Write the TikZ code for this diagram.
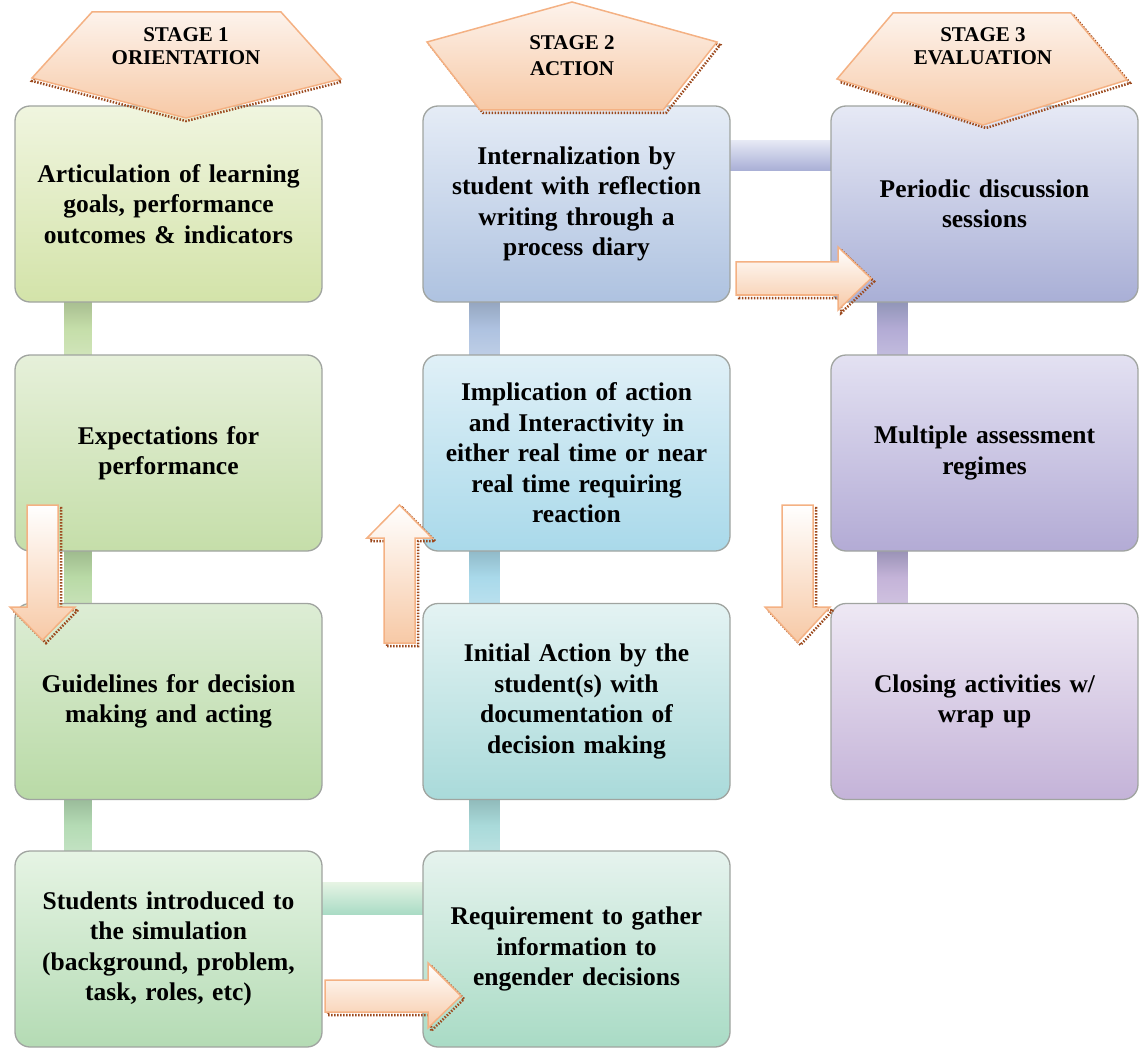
\documentclass[tikz,border=0pt]{standalone}
\usepackage{fontspec}
\setmainfont{Liberation Serif}
\usetikzlibrary{calc}
\definecolor{hdrline}{HTML}{F4B183}
\definecolor{hdrtop}{HTML}{FDF3EC}
\definecolor{hdrbot}{HTML}{F7C9A6}
\definecolor{shadowc}{HTML}{9C4A1E}
\definecolor{boxline}{HTML}{A0A4A0}
\definecolor{aAt}{HTML}{F0F5DF}\definecolor{aAb}{HTML}{D3E3A9}
\definecolor{aBt}{HTML}{E6F0DA}\definecolor{aBb}{HTML}{C5DEA9}
\definecolor{aCt}{HTML}{DDEDD5}\definecolor{aCb}{HTML}{B9DAA6}
\definecolor{aDt}{HTML}{E6F4E4}\definecolor{aDb}{HTML}{B4DBB4}
\definecolor{bAt}{HTML}{E5ECF6}\definecolor{bAb}{HTML}{AEC2E0}
\definecolor{bBt}{HTML}{E0F0F7}\definecolor{bBb}{HTML}{A9D9EA}
\definecolor{bCt}{HTML}{E4F3F3}\definecolor{bCb}{HTML}{A9DADA}
\definecolor{bDt}{HTML}{E6F3EE}\definecolor{bDb}{HTML}{A9DBC5}
\definecolor{cAt}{HTML}{E6E9F5}\definecolor{cAb}{HTML}{A9AFD6}
\definecolor{cBt}{HTML}{E3E1F2}\definecolor{cBb}{HTML}{B3ABD5}
\definecolor{cCt}{HTML}{EEE8F4}\definecolor{cCb}{HTML}{C4B3D8}
\begin{document}
\begin{tikzpicture}[x=1pt,y=-1pt,
  stagebox/.style={draw=boxline, line width=1.3pt, rounded corners=15pt,
    minimum width=307pt, minimum height=196pt, text width=300pt,
    align=center, inner sep=0pt, font=\fontsize{25.5}{30.5}\selectfont\bfseries},
  hdrshape/.style={top color=hdrtop, bottom color=hdrbot, draw=hdrline, line width=1.5pt},
  hdrshadow/.style={draw=shadowc, line width=2.5pt, dash pattern=on 1.5pt off 1.5pt},
  hdrtext/.style={align=center, inner sep=0pt, font=\fontsize{21}{23}\selectfont\bfseries},
  blockarrow/.style={top color=white, bottom color=hdrbot, draw=hdrline, line width=1.5pt}
]
\useasboundingbox (0,0) rectangle (1139,1048);

\path
  (168.5,204) coordinate (pa1) (168.5,453) coordinate (pa2)
  (168.5,701.5) coordinate (pa3) (168.5,949) coordinate (pa4)
  (576.5,204) coordinate (pb1) (576.5,453) coordinate (pb2)
  (576.5,701.5) coordinate (pb3) (576.5,949) coordinate (pb4)
  (984.5,204) coordinate (pc1) (984.5,453) coordinate (pc2)
  (984.5,701.5) coordinate (pc3);

% placeholders giving the box geometry for the bars
\node[stagebox, draw=none] (a1) at (pa1) {};
\node[stagebox, draw=none] (a2) at (pa2) {};
\node[stagebox, draw=none] (a3) at (pa3) {};
\node[stagebox, draw=none] (a4) at (pa4) {};
\node[stagebox, draw=none] (b1) at (pb1) {};
\node[stagebox, draw=none] (b2) at (pb2) {};
\node[stagebox, draw=none] (b3) at (pb3) {};
\node[stagebox, draw=none] (b4) at (pb4) {};
\node[stagebox, draw=none] (c1) at (pc1) {};
\node[stagebox, draw=none] (c2) at (pc2) {};
\node[stagebox, draw=none] (c3) at (pc3) {};

% connector bars
\shade[top color=aBb!85!black, bottom color=aBb!80!white, middle color=aBb] ($(a1.south west)+(50,-2)$) rectangle ($(a2.north west)+(77,2)$);
\shade[top color=aCb!85!black, bottom color=aCb!80!white, middle color=aCb] ($(a2.south west)+(50,-2)$) rectangle ($(a3.north west)+(77,2)$);
\shade[top color=aDb!85!black, bottom color=aDb!80!white, middle color=aDb] ($(a3.south west)+(50,-2)$) rectangle ($(a4.north west)+(77,2)$);
\shade[top color=bAb!85!black, bottom color=bAb!80!white, middle color=bAb] ($(b1.south west)+(47,-2)$) rectangle ($(b2.north west)+(77,2)$);
\shade[top color=bBb!85!black, bottom color=bBb!80!white, middle color=bBb] ($(b2.south west)+(47,-2)$) rectangle ($(b3.north west)+(77,2)$);
\shade[top color=bCb!85!black, bottom color=bCb!80!white, middle color=bCb] ($(b3.south west)+(47,-2)$) rectangle ($(b4.north west)+(77,2)$);
\shade[top color=cAb!85!black, bottom color=cBb!80!white, middle color=cBb] ($(c1.south west)+(47,-2)$) rectangle ($(c2.north west)+(77,2)$);
\shade[top color=cBb!85!black, bottom color=cCb!80!white, middle color=cCb] ($(c2.south west)+(47,-2)$) rectangle ($(c3.north west)+(77,2)$);
\shade[top color=cAt, bottom color=cAb] ($(b1.north east)+(-2,35)$) rectangle ($(c1.north west)+(2,65)$);
\shade[top color=aDt, bottom color=bDb] ($(a4.north east)+(-2,32)$) rectangle ($(b4.north west)+(2,64)$);

% boxes
\node[stagebox, top color=aAt, bottom color=aAb] at (pa1) {Articulation of learning\\goals, performance\\outcomes \& indicators};
\node[stagebox, top color=aBt, bottom color=aBb] at (pa2) {Expectations for\\performance};
\node[stagebox, top color=aCt, bottom color=aCb] at (pa3) {Guidelines for decision\\making and acting};
\node[stagebox, top color=aDt, bottom color=aDb] at (pa4) {Students introduced to\\the simulation\\(background, problem,\\task, roles, etc)};
\node[stagebox, top color=bAt, bottom color=bAb] at (pb1) {Internalization by\\student with reflection\\writing through a\\process diary};
\node[stagebox, top color=bBt, bottom color=bBb] at (pb2) {Implication of action\\and Interactivity in\\either real time or near\\real time requiring\\reaction};
\node[stagebox, top color=bCt, bottom color=bCb] at (pb3) {Initial Action by the\\student(s) with\\documentation of\\decision making};
\node[stagebox, top color=bDt, bottom color=bDb] at (pb4) {Requirement to gather\\information to\\engender decisions};
\node[stagebox, top color=cAt, bottom color=cAb] at (pc1) {Periodic discussion\\sessions};
\node[stagebox, top color=cBt, bottom color=cBb] at (pc2) {Multiple assessment\\regimes};
\node[stagebox, top color=cCt, bottom color=cCb] at (pc3) {Closing activities w/\\wrap up};

% block arrows (shadow then shape)
\draw[hdrshadow] (30,508)--(61,508)--(61,610)--(78,610)--(46,643)--(13,610)--(30,610)--cycle;
\shadedraw[blockarrow] (27,505)--(58,505)--(58,607)--(75,607)--(42.5,640)--(10,607)--(27,607)--cycle;

\draw[hdrshadow] (387,646)--(418,646)--(418,541)--(435,541)--(402.5,508)--(370,541)--(387,541)--cycle;
\shadedraw[blockarrow] (384,643)--(415,643)--(415,538)--(432,538)--(399.5,505)--(367,538)--(384,538)--cycle;

\draw[hdrshadow] (785,508)--(816,508)--(816,610)--(833,610)--(800.5,645)--(768,610)--(785,610)--cycle;
\shadedraw[blockarrow] (782,505)--(813,505)--(813,607)--(830,607)--(797.5,642)--(765,607)--(782,607)--cycle;

\draw[hdrshadow] (739,265)--(841,265)--(841,250)--(874,281.5)--(841,313)--(841,298)--(739,298)--cycle;
\shadedraw[blockarrow] (736,262)--(838,262)--(838,247)--(871,278.5)--(838,310)--(838,295)--(736,295)--cycle;

\draw[hdrshadow] (328,983)--(431,983)--(431,966)--(464,999)--(431,1031)--(431,1015)--(328,1015)--cycle;
\shadedraw[blockarrow] (325,980)--(428,980)--(428,963)--(461,996)--(428,1028)--(428,1012)--(325,1012)--cycle;

% stage headers
\draw[hdrshadow] (92,15)--(281,15)--(341,82)--(186,121)--(32,81)--cycle;
\shadedraw[hdrshape] (92,12)--(281,12)--(341,79)--(186,118)--(32,78)--cycle;
\node[hdrtext] (h1) at (186,46.5) {STAGE 1\\ORIENTATION};

\draw[hdrshadow] (574,5)--(720,45)--(666,113)--(483,113)--(430,45)--cycle;
\shadedraw[hdrshape] (572,2)--(717,42)--(663,110)--(480,110)--(427,42)--cycle;
\node[hdrtext, font=\fontsize{21}{26}\selectfont\bfseries] (h2) at (572,56) {STAGE 2\\ACTION};

\draw[hdrshadow] (896,16)--(1074,16)--(1130,83)--(986,128)--(840,82)--cycle;
\shadedraw[hdrshape] (893,13)--(1071,13)--(1127,80)--(983,125)--(837,79)--cycle;
\node[hdrtext] (h3) at (983,46.5) {STAGE 3\\EVALUATION};
\end{tikzpicture}
\end{document}
